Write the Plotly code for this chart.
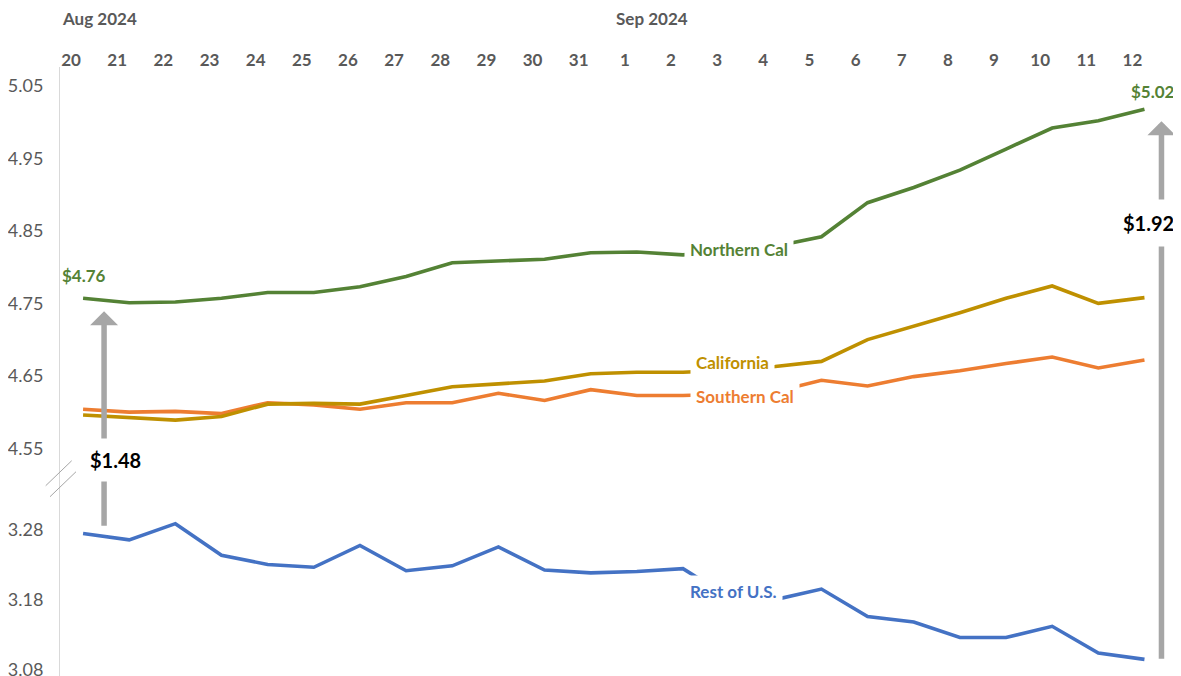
import plotly.graph_objects as go
import pandas as pd

# ---------------- data ----------------
dates = pd.date_range("2024-08-20", "2024-09-12", freq="D")

northern_cal = [4.757, 4.751, 4.752, 4.757, 4.765, 4.765, 4.773, 4.787, 4.806, 4.808,
                4.811, 4.820, 4.821, 4.817, 4.823, 4.829, 4.842, 4.889, 4.910, 4.934,
                4.963, 4.992, 5.002, 5.018]
california = [4.596, 4.593, 4.589, 4.594, 4.611, 4.612, 4.611, 4.623, 4.635, 4.639,
              4.643, 4.653, 4.655, 4.655, 4.658, 4.663, 4.670, 4.700, 4.718, 4.737,
              4.757, 4.774, 4.750, 4.758]
southern_cal = [4.604, 4.600, 4.601, 4.598, 4.613, 4.610, 4.604, 4.613, 4.613, 4.626,
                4.616, 4.631, 4.623, 4.623, 4.625, 4.628, 4.644, 4.636, 4.649, 4.657,
                4.667, 4.676, 4.661, 4.672]
rest_of_us = [3.274, 3.265, 3.288, 3.243, 3.230, 3.226, 3.257, 3.221, 3.228, 3.255,
              3.222, 3.218, 3.220, 3.224, 3.183, 3.180, 3.195, 3.156, 3.148, 3.126,
              3.126, 3.142, 3.104, 3.095]

y_ticks_top = [4.55, 4.65, 4.75, 4.85, 4.95, 5.05]
y_ticks_bottom = [3.08, 3.18, 3.28]
x_tick_labels = [str(d.day) for d in dates]

# ---------------- styling ----------------
GREEN = "#548235"
GOLD = "#BF9000"
ORANGE = "#ED7D31"
BLUE = "#4472C4"
GREY_TXT = "#595959"
ARROW = "#A6A6A6"
FONT = "Lato"
LW = 3.6
BREAK = 0.3218  # paper fraction where the axis break sits

fig = go.Figure()
for name, vals, col in [("Southern Cal", southern_cal, ORANGE),
                        ("California", california, GOLD),
                        ("Northern Cal", northern_cal, GREEN)]:
    fig.add_trace(go.Scatter(x=dates, y=vals, mode="lines", name=name,
                             line=dict(color=col, width=LW), xaxis="x", yaxis="y"))
fig.add_trace(go.Scatter(x=dates, y=rest_of_us, mode="lines", name="Rest of U.S.",
                         line=dict(color=BLUE, width=LW), xaxis="x2", yaxis="y2"))

x_range = [dates[0] - pd.Timedelta(hours=12), dates[-1] + pd.Timedelta(hours=19)]

# the page body has an 8px default margin, so the figure is 8px smaller
fig.update_layout(
    width=1173, height=668,
    margin=dict(l=52, r=0, t=59, b=0, autoexpand=False),
    paper_bgcolor="white", plot_bgcolor="white",
    showlegend=False,
    font=dict(family=FONT, color=GREY_TXT),
    xaxis=dict(domain=[0, 1], anchor="y", side="top", type="date", range=x_range,
               tickvals=list(dates), ticktext=x_tick_labels, automargin=False,
               showgrid=False, showline=False, zeroline=False, ticks="",
               ticklabelshift=-12, ticklabelstandoff=-3,
               tickfont=dict(family=FONT, size=17, color=GREY_TXT, weight="bold")),
    xaxis2=dict(matches="x", anchor="y2", visible=False, range=x_range, type="date",
                automargin=False),
    yaxis=dict(domain=[BREAK, 1], range=[4.5063, 5.0762], tickvals=y_ticks_top,
               tickformat=".2f", showgrid=False, zeroline=False, ticks="",
               showline=True, linecolor="#D9D9D9", linewidth=1, automargin=False,
               ticklabelstandoff=12, ticklabeloverflow="allow",
               tickfont=dict(family=FONT, size=18, color=GREY_TXT)),
    yaxis2=dict(domain=[0, BREAK], range=[3.0713, 3.3501], tickvals=y_ticks_bottom,
                tickformat=".2f", showgrid=False, zeroline=False, ticks="",
                showline=True, linecolor="#D9D9D9", linewidth=1, automargin=False,
                ticklabelstandoff=12, ticklabeloverflow="allow",
                tickfont=dict(family=FONT, size=18, color=GREY_TXT)),
)

ann = []
# month labels
for d in dates:
    if d == dates[0] or d.day == 1:
        ann.append(dict(x=d, xref="x", y=1, yref="paper", yanchor="bottom", xanchor="left",
                        xshift=-23, yshift=36, showarrow=False, text=d.strftime("%b %Y"),
                        font=dict(family=FONT, size=17, color=GREY_TXT, weight="bold")))

# arrows (gap annotations)
ann.append(dict(x=dates[0], y=northern_cal[0], xref="x", yref="y", xshift=21, yshift=-13,
                ax=0, ay=216, axref="pixel", ayref="pixel", text="", showarrow=True,
                arrowhead=1, arrowsize=0.85, arrowwidth=5.5, arrowcolor=ARROW))
ann.append(dict(x=dates[-1], y=northern_cal[-1], xref="x", yref="y", xshift=17, yshift=-12,
                ax=0, ay=539, axref="pixel", ayref="pixel", text="", showarrow=True,
                arrowhead=1, arrowsize=0.85, arrowwidth=5.5, arrowcolor=ARROW))
ann.append(dict(x=dates[0], y=northern_cal[0], xref="x", yref="y", xshift=32, yshift=-162,
                showarrow=False, text=f"${northern_cal[0]-rest_of_us[0]:.2f}",
                bgcolor="white", borderpad=9,
                font=dict(family=FONT, size=20, color="black", weight="bold")))
ann.append(dict(x=dates[-1], y=northern_cal[-1], xref="x", yref="y", xshift=4, yshift=-114,
                showarrow=False, text=f"${northern_cal[-1]-rest_of_us[-1]:.2f}",
                bgcolor="white", borderpad=11,
                font=dict(family=FONT, size=20, color="black", weight="bold")))

# start / end value labels
ann.append(dict(x=dates[0], y=northern_cal[0], xref="x", yref="y", xshift=1, yshift=23,
                showarrow=False, text=f"${northern_cal[0]:.2f}",
                font=dict(family=FONT, size=17, color=GREEN, weight="bold")))
ann.append(dict(x=dates[-1], y=northern_cal[-1], xref="x", yref="y", xshift=33, yshift=18,
                xanchor="right", showarrow=False, text=f"${northern_cal[-1]:.2f}",
                font=dict(family=FONT, size=17, color=GREEN, weight="bold")))

# series labels (white background masks the line behind them)
for text, yv, yr, xs, col in [("Northern Cal", 4.824, "y", 10, GREEN),
                              ("California", 4.668, "y", 3, GOLD),
                              ("Southern Cal", 4.622, "y", 16, ORANGE),
                              ("Rest of U.S.", 3.192, "y2", 4, BLUE)]:
    ann.append(dict(x=dates[14], y=yv, xref="x", yref=yr, xshift=xs, showarrow=False,
                    text=text, bgcolor="white", borderpad=5,
                    font=dict(family=FONT, size=17, color=col, weight="bold")))

fig.update_layout(annotations=ann)

# axis-break marks
for (x0, y0, x1, y1) in [(-14.3, -5.7, 11.7, 19.3), (-10, -16.7, 16, 8.3)]:
    fig.add_shape(type="line", xref="paper", yref="paper",
                  xsizemode="pixel", ysizemode="pixel", xanchor=0, yanchor=BREAK,
                  x0=x0, x1=x1, y0=y0, y1=y1, line=dict(color="#A6A6A6", width=1))

fig.write_html("out.html")
